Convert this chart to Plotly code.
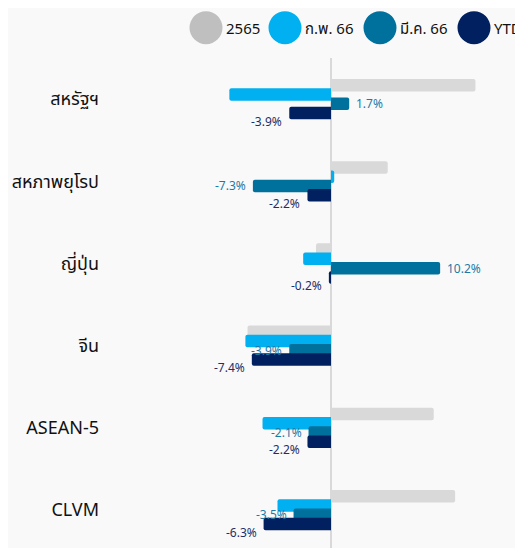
import plotly.graph_objects as go

categories = ["สหรัฐฯ", "สหภาพยุโรป", "ญี่ปุ่น", "จีน", "ASEAN-5", "CLVM"]
series_names = ["2565", "ก.พ. 66", "มี.ค. 66", "YTD"]
v_2565 = [13.5, 5.3, -1.4, -7.8, 9.6, 11.6]
v_feb66 = [-9.5, 0.3, -2.6, -8.0, -6.4, -5.0]
v_mar66 = [1.7, -7.3, 10.2, -3.9, -2.1, -3.5]
v_ytd = [-3.9, -2.2, -0.2, -7.4, -2.2, -6.3]
series_values = [v_2565, v_feb66, v_mar66, v_ytd]

bar_colors = ["#d9d9d9", "#00b0f0", "#00709c", "#002060"]
legend_colors = ["#bfbfbf", "#00b0f0", "#00709c", "#002060"]
label_colors = {2: "#1d7aa6", 3: "#1f2e66"}

OFF = 8  # page body margin
W, H = 523 - OFF, 548 - OFF
ML, MR, MT, MB = 110 - OFF, 10, 58 - OFF, 0
PW, PH = W - ML - MR, H - MT - MB
PX_PER_PCT = 10.7
ZERO_PX = 331 - OFF
xmin = -(ZERO_PX - ML) / PX_PER_PCT
xmax = xmin + PW / PX_PER_PCT
PX_PER_CAT = 82.2
ybottom = -0.5 + PH / PX_PER_CAT

bar_w = 0.152
step = 0.1128
centers = [-1.5 * step, -0.5 * step, 0.5 * step, 1.5 * step]

fig = go.Figure()
for k, (name, vals) in enumerate(zip(series_names, series_values)):
    fig.add_trace(go.Bar(
        x=vals, y=categories, orientation="h", name=name,
        marker=dict(color=bar_colors[k], line=dict(width=0)),
        width=bar_w, offset=centers[k] - bar_w / 2,
        showlegend=False, hoverinfo="x+y",
    ))

annotations = []
font_lbl = "Noto Sans, Noto Sans Thai, sans-serif"
for k in (2, 3):
    for i, v in enumerate(series_values[k]):
        pos = v > 0
        annotations.append(dict(
            x=v, y=i + centers[k], xref="x", yref="y",
            text=f"{v:.1f}%", showarrow=False,
            xanchor="left" if pos else "right",
            xshift=5 if pos else -5,
            yshift=-8 if k == 3 else 0,
            font=dict(size=12, color=label_colors[k], family=font_lbl),
        ))


def px_x(p):
    return (p - OFF - ML) / PW


def px_y(p):
    return (H - MB - (p - OFF)) / PH


# custom legend with large circles
leg_cx = [206, 285, 380, 474]
leg_cy = 27.7
shapes = []
for k, name in enumerate(series_names):
    shapes.append(dict(
        type="circle", xref="paper", yref="paper",
        xsizemode="pixel", ysizemode="pixel",
        xanchor=px_x(leg_cx[k]), yanchor=px_y(leg_cy),
        x0=-16.5, x1=16.5, y0=-16.5, y1=16.5,
        fillcolor=legend_colors[k], line=dict(width=0),
    ))
    annotations.append(dict(
        x=px_x(leg_cx[k] + 18), y=px_y(leg_cy), xref="paper", yref="paper",
        text=name, showarrow=False, xanchor="left", yanchor="middle",
        font=dict(size=15, color="#111111", family=font_lbl),
    ))

fig.update_layout(
    width=W, height=H,
    margin=dict(l=ML, r=MR, t=MT, b=MB),
    paper_bgcolor="#f9f9f9", plot_bgcolor="#f9f9f9",
    barmode="overlay", barcornerradius=2,
    xaxis=dict(range=[xmin, xmax], showgrid=False, showticklabels=False,
               zeroline=True, zerolinecolor="#d9d9d9", zerolinewidth=2,
               fixedrange=True),
    yaxis=dict(type="category", categoryorder="array", categoryarray=categories,
               range=[ybottom, -0.5], showgrid=False, zeroline=False,
               ticks="", ticklabelstandoff=10,
               tickfont=dict(size=18, color="#111111", family=font_lbl)),
    shapes=shapes, annotations=annotations, showlegend=False,
)

fig.write_html("out.html")
